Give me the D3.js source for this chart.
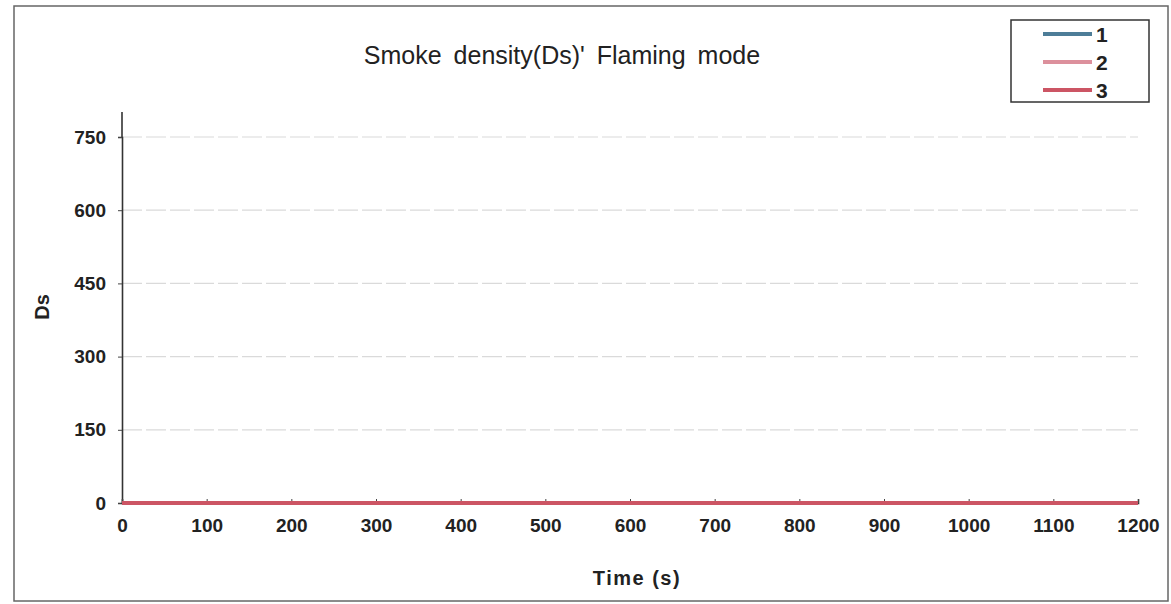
<!DOCTYPE html>
<html>
<head>
<meta charset="utf-8">
<script src="https://cdn.jsdelivr.net/npm/d3@7"></script>
<style>
  body { margin: 0; background: #fff; }
  text { font-family: "Liberation Sans", Arial, sans-serif; }
</style>
</head>
<body>
<div id="chart"></div>
<script>
// time points (s) and smoke density values
var times = [0, 100, 200, 300, 400, 500, 600, 700, 800, 900, 1000, 1100, 1200];
var series1 = [0, 0, 0, 0, 0, 0, 0, 0, 0, 0, 0, 0, 0];
var series2 = [0, 0, 0, 0, 0, 0, 0, 0, 0, 0, 0, 0, 0];
var series3 = [0, 0, 0, 0, 0, 0, 0, 0, 0, 0, 0, 0, 0];
var seriesNames = ['1', '2', '3'];
var seriesColors = ['#4d7d98', '#dc909c', '#cc5564'];
var xTicks = [0, 100, 200, 300, 400, 500, 600, 700, 800, 900, 1000, 1100, 1200];
var yTicks = [0, 150, 300, 450, 600, 750];

var width = 1171, height = 604;
var svg = d3.select('#chart').append('svg').attr('width', width).attr('height', height);

// outer frame
svg.append('rect')
    .attr('x', 14).attr('y', 6).attr('width', 1154).attr('height', 595)
    .attr('fill', 'none').attr('stroke', '#666').attr('stroke-width', 1.5);

var x = d3.scaleLinear().domain([0, 1200]).range([122, 1138]);
var y = d3.scaleLinear().domain([0, 750]).range([503, 137]);

// grid lines
svg.selectAll('line.grid')
    .data(yTicks.filter(function (d) { return d > 0; }))
    .enter()
    .append('line')
    .attr('class', 'grid')
    .attr('x1', x(0)).attr('x2', x(1200))
    .attr('y1', function (d) { return y(d); })
    .attr('y2', function (d) { return y(d); })
    .attr('stroke', '#dadada')
    .attr('stroke-width', 1.2)
    .attr('stroke-dasharray', '20,4');

// axes
var fmt = d3.format('d');
var yAxis = svg.append('g')
    .attr('transform', 'translate(' + x(0) + ',0)')
    .call(d3.axisLeft(y).tickValues(yTicks).tickFormat(fmt).tickSize(4).tickPadding(12));
var xAxis = svg.append('g')
    .attr('transform', 'translate(0,' + y(0) + ')')
    .call(d3.axisBottom(x).tickValues(xTicks).tickFormat(fmt).tickSize(-4).tickPadding(16));

[xAxis, yAxis].forEach(function (g) {
    g.select('.domain').attr('stroke', '#333').attr('stroke-width', 1.6);
    g.selectAll('.tick line').attr('stroke', '#444');
    g.selectAll('.tick text')
        .attr('fill', '#222')
        .style('font-size', '19px')
        .style('font-weight', 'bold');
});
// y axis extends above the top tick
svg.append('line')
    .attr('x1', x(0)).attr('x2', x(0))
    .attr('y1', 112).attr('y2', y(750))
    .attr('stroke', '#333').attr('stroke-width', 1.6);

// lines
var line = d3.line()
    .x(function (d, i) { return x(times[i]); })
    .y(function (d) { return y(d); });
[series1, series2, series3].forEach(function (s, i) {
    svg.append('path')
        .datum(s)
        .attr('fill', 'none')
        .attr('stroke', seriesColors[i])
        .attr('stroke-width', 4)
        .attr('d', line);
});

// title and axis labels
svg.append('text')
    .attr('x', 562).attr('y', 64)
    .attr('text-anchor', 'middle')
    .style('font-size', '25px')
    .style('word-spacing', '5px')
    .attr('fill', '#222')
    .text("Smoke density(Ds)' Flaming mode");

svg.append('text')
    .attr('x', 637).attr('y', 585)
    .attr('text-anchor', 'middle')
    .style('font-size', '20px')
    .style('font-weight', 'bold')
    .style('letter-spacing', '1.5px')
    .attr('fill', '#222')
    .text('Time (s)');

svg.append('text')
    .attr('transform', 'translate(49,307) rotate(-90)')
    .attr('text-anchor', 'middle')
    .style('font-size', '20px')
    .style('font-weight', 'bold')
    .attr('fill', '#222')
    .text('Ds');

// legend
var legend = svg.append('g');
legend.append('rect')
    .attr('x', 1011).attr('y', 20).attr('width', 138).attr('height', 82)
    .attr('fill', '#fff').attr('stroke', '#333').attr('stroke-width', 1.5);
seriesNames.forEach(function (n, i) {
    var ly = 34 + i * 28;
    legend.append('line')
        .attr('x1', 1043).attr('x2', 1092)
        .attr('y1', ly).attr('y2', ly)
        .attr('stroke', seriesColors[i])
        .attr('stroke-width', 4);
    legend.append('text')
        .attr('x', 1096).attr('y', ly + 8)
        .style('font-size', '21px')
        .style('font-weight', 'bold')
        .attr('fill', '#222')
        .text(n);
});
</script>
</body>
</html>
